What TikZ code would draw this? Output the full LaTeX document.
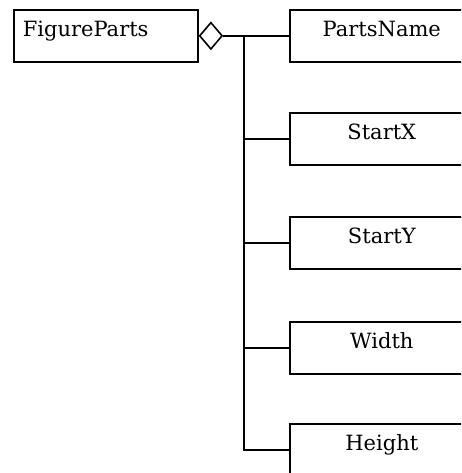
\documentclass[tikz,border=0pt]{standalone}
\usepackage{fontspec}
\setmainfont{DejaVu Serif}
\usetikzlibrary{shapes.geometric}
\tikzset{
  line/.style={line width=1.6pt},
  classbox/.style={draw, line, rectangle, minimum width=184pt, minimum height=52pt,
    inner sep=0pt, text height=14pt, text depth=12pt, anchor=north west,
    font=\fontsize{21}{24}\selectfont},
  agg/.style={draw, line, diamond, minimum width=23pt, minimum height=27pt,
    inner sep=0pt, anchor=west, fill=white},
}
\begin{document}
\begin{tikzpicture}[x=1pt, y=-1pt]
  \clip (0,0) rectangle (461,473);
  \fill[white] (0,0) rectangle (461,473);

  % whole class
  \node[classbox, text width=166pt, inner xsep=9pt, align=left] (fp) at (13,9) {FigureParts};
  \node[agg] (dia) at (fp.east) {};

  % part classes
  \node[classbox] (pn) at (289,9)   {PartsName};
  \node[classbox] (sx) at (289,112) {StartX};
  \node[classbox] (sy) at (289,216) {StartY};
  \node[classbox] (wd) at (289,321) {Width};
  \node[classbox] (ht) at (289,423) {Height};

  % aggregation tree
  \coordinate (spine) at (244,35);
  \draw[line] (dia.east) -- (pn.west);
  \draw[line] (spine) |- (ht.west);
  \foreach \p in {sx,sy,wd}
    \draw[line] (spine |- \p.west) -- (\p.west);
\end{tikzpicture}
\end{document}
